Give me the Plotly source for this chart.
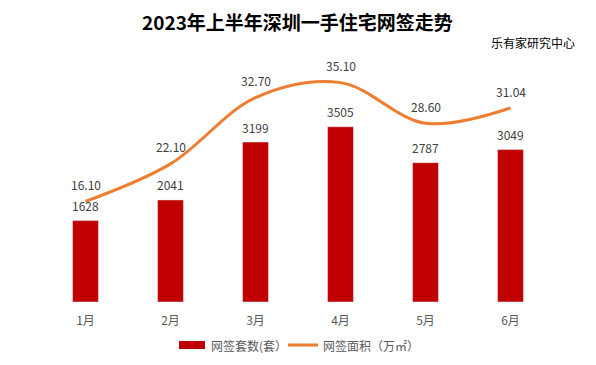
import plotly.graph_objects as go

months = ["1月", "2月", "3月", "4月", "5月", "6月"]
units = [1628, 2041, 3199, 3505, 2787, 3049]
area = [16.10, 22.10, 32.70, 35.10, 28.60, 31.04]
area_labels = ["16.10", "22.10", "32.70", "35.10", "28.60", "31.04"]

FONT = "Noto Sans CJK SC, Microsoft YaHei, sans-serif"
LABEL = "#404040"

fig = go.Figure()
fig.add_trace(go.Bar(
    x=months, y=units, name="网签套数(套）",
    marker_color="#C00000", width=0.305, showlegend=False,
))
fig.add_trace(go.Scatter(
    x=months, y=area, name="网签面积（万㎡）", yaxis="y2", showlegend=False,
    mode="lines", line=dict(color="#ED7D31", width=3, shape="spline", smoothing=1.0),
    cliponaxis=False,
))

annotations = []
for m, v in zip(months, units):
    annotations.append(dict(x=m, y=v, xref="x", yref="y", text=str(v), showarrow=False,
                            yshift=15, font=dict(size=12, color=LABEL, family=FONT)))
for m, v, t in zip(months, area, area_labels):
    annotations.append(dict(x=m, y=v, xref="x", yref="y2", text=t, showarrow=False,
                            yshift=17, font=dict(size=12, color=LABEL, family=FONT)))

annotations += [
    dict(text="<b>2023年上半年深圳一手住宅网签走势</b>", xref="paper", yref="paper",
         x=0.499, xanchor="center", y=1.12, yanchor="middle",
         showarrow=False, font=dict(size=19, color="#000000", family=FONT)),
    dict(text="乐有家研究中心", xref="paper", yref="paper", x=1.047, xanchor="right",
         y=1.036, yanchor="middle", showarrow=False,
         font=dict(size=12, color="#000000", family=FONT)),
    dict(text="网签套数(套）", xref="paper", yref="paper", x=0.3255, xanchor="left",
         y=-0.172, yanchor="middle", showarrow=False,
         font=dict(size=12, color="#595959", family=FONT)),
    dict(text="网签面积（万㎡）", xref="paper", yref="paper", x=0.545, xanchor="left",
         y=-0.172, yanchor="middle", showarrow=False,
         font=dict(size=12, color="#595959", family=FONT)),
]

shapes = [
    dict(type="rect", xref="paper", yref="paper", x0=0.2667, x1=0.3176, y0=-0.156, y1=-0.188,
         fillcolor="#C00000", line=dict(width=0)),
    dict(type="line", xref="paper", yref="paper", x0=0.4804, x1=0.5392, y0=-0.172, y1=-0.172,
         line=dict(color="#ED7D31", width=3)),
]

fig.update_layout(
    width=596, height=365,
    margin=dict(l=35, r=51, t=44, b=71, autoexpand=False),
    paper_bgcolor="white", plot_bgcolor="white",
    font=dict(family=FONT, color="#595959", size=12),
    showlegend=False,
    xaxis=dict(showgrid=False, showline=False, ticks="", automargin=False,
               ticklabelstandoff=10, tickfont=dict(size=12, color="#595959")),
    yaxis=dict(range=[0, 5000], visible=False, showgrid=False, automargin=False),
    yaxis2=dict(range=[0, 40], visible=False, overlaying="y", side="right",
                showgrid=False, automargin=False),
    annotations=annotations,
    shapes=shapes,
)

fig.write_html("out.html")
